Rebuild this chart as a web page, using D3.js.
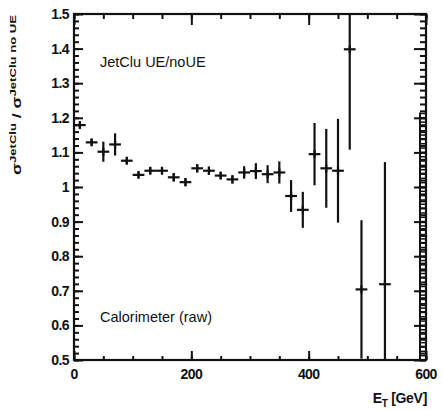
<!DOCTYPE html>
<html>
<head>
<meta charset="utf-8">
<script src="https://cdn.jsdelivr.net/npm/d3@7"></script>
<style>
  html, body { margin: 0; padding: 0; background: #fff; }
  svg { display: block; }
  text { font-family: "Liberation Sans", Arial, sans-serif; fill: #111; }
</style>
</head>
<body>
<svg id="chart" width="443" height="411"></svg>
<script>
// ---- data ----
const binCenters = [10, 30, 50, 70, 90, 110, 130, 150, 170, 190, 210, 230, 250, 270, 290, 310, 330, 350, 370, 390, 410, 430, 450, 470, 490, 530];
const ratioValues = [1.179, 1.129, 1.102, 1.123, 1.076, 1.035, 1.047, 1.047, 1.028, 1.014, 1.054, 1.047, 1.033, 1.022, 1.042, 1.046, 1.037, 1.042, 0.974, 0.934, 1.095, 1.054, 1.047, 1.398, 0.704, 0.719];
const ratioErrors = [0.008, 0.01, 0.029, 0.032, 0.01, 0.008, 0.01, 0.01, 0.012, 0.012, 0.012, 0.012, 0.01, 0.012, 0.018, 0.023, 0.026, 0.032, 0.046, 0.052, 0.09, 0.114, 0.15, 0.29, 0.2, 0.353];
const binHalfWidth = 10;
const xTickValues = [0, 200, 400, 600];
const xTickLabels = ["0", "200", "400", "600"];
const yTickValues = [0.5, 0.6, 0.7, 0.8, 0.9, 1.0, 1.1, 1.2, 1.3, 1.4, 1.5];
const yTickLabels = ["0.5", "0.6", "0.7", "0.8", "0.9", "1", "1.1", "1.2", "1.3", "1.4", "1.5"];

// ---- layout ----
const svg = d3.select("#chart");
const L = 74, R = 426, T = 14, B = 360;
const x = d3.scaleLinear().domain([0, 600]).range([L, R]);
const y = d3.scaleLinear().domain([0.5, 1.5]).range([B, T]);

const xMinor = d3.range(0, 600.1, 50);
const yMinor = d3.range(0.5, 1.5001, 0.02);

// clip
svg.append("defs").append("clipPath").attr("id", "plotclip")
  .append("rect").attr("x", L).attr("y", T).attr("width", R - L).attr("height", B - T);

// axes with inside ticks
function tickG(axis, tr) {
  const g = svg.append("g").attr("transform", tr).call(axis);
  g.select(".domain").remove();
  g.selectAll("line").attr("stroke", "#111").attr("stroke-width", 2);
  g.selectAll("text").remove();
  return g;
}
// bottom
tickG(d3.axisBottom(x).tickValues(xMinor).tickSize(-4), `translate(0,${B})`);
tickG(d3.axisBottom(x).tickValues(xTickValues).tickSize(-9), `translate(0,${B})`);
// top
tickG(d3.axisTop(x).tickValues(xMinor).tickSize(-5), `translate(0,${T})`);
tickG(d3.axisTop(x).tickValues(xTickValues).tickSize(-11), `translate(0,${T})`);
// left
tickG(d3.axisLeft(y).tickValues(yMinor).tickSize(-5), `translate(${L},0)`);
tickG(d3.axisLeft(y).tickValues(yTickValues).tickSize(-9), `translate(${L},0)`);
// right
tickG(d3.axisRight(y).tickValues(yMinor).tickSize(-6), `translate(${R},0)`);
tickG(d3.axisRight(y).tickValues(yTickValues).tickSize(-12), `translate(${R},0)`);

// ladder artifact on right edge
const ladderTop = 1.215;
const ladder = svg.append("g");
ladder.append("line").attr("x1", R - 6).attr("x2", R - 6)
  .attr("y1", y(ladderTop)).attr("y2", B).attr("stroke", "#111").attr("stroke-width", 2);
ladder.selectAll("line.rung").data(d3.range(0.5, ladderTop, 0.0125)).join("line")
  .attr("class", "rung")
  .attr("x1", R - 6).attr("x2", R).attr("y1", d => y(d)).attr("y2", d => y(d))
  .attr("stroke", "#111").attr("stroke-width", 1.5);

// frame
svg.append("rect").attr("x", L).attr("y", T).attr("width", R - L).attr("height", B - T)
  .attr("fill", "none").attr("stroke", "#111").attr("stroke-width", 2.2);

// tick labels
svg.append("g").selectAll("text").data(xTickValues).join("text")
  .attr("x", d => x(d)).attr("y", B + 19)
  .attr("text-anchor", "middle").attr("font-size", 14).attr("font-weight", "bold")
  .attr("letter-spacing", -0.6)
  .text((d, i) => xTickLabels[i]);
svg.append("g").selectAll("text").data(yTickValues).join("text")
  .attr("x", L - 5).attr("y", d => y(d) + 5)
  .attr("text-anchor", "end").attr("font-size", 14).attr("font-weight", "bold")
  .attr("letter-spacing", -0.6)
  .text((d, i) => yTickLabels[i]);

// data points
const pts = binCenters.map((c, i) => ({ c, v: ratioValues[i], e: ratioErrors[i] }));
const dg = svg.append("g").attr("clip-path", "url(#plotclip)");
dg.selectAll("line.ey").data(pts).join("line").attr("class", "ey")
  .attr("x1", d => x(d.c)).attr("x2", d => x(d.c))
  .attr("y1", d => y(d.v - d.e)).attr("y2", d => y(d.v + d.e))
  .attr("stroke", "#111").attr("stroke-width", 2.2);
dg.selectAll("line.ex").data(pts).join("line").attr("class", "ex")
  .attr("x1", d => x(d.c - binHalfWidth)).attr("x2", d => x(d.c + binHalfWidth))
  .attr("y1", d => y(d.v)).attr("y2", d => y(d.v))
  .attr("stroke", "#111").attr("stroke-width", 2.2);
// minimal vertical stubs for points with tiny errors
dg.selectAll("line.stub").data(pts).join("line").attr("class", "stub")
  .attr("x1", d => x(d.c)).attr("x2", d => x(d.c))
  .attr("y1", d => y(d.v) - 4).attr("y2", d => y(d.v) + 4)
  .attr("stroke", "#111").attr("stroke-width", 2.2);

// annotations
svg.append("text").attr("x", 100).attr("y", 67).attr("font-size", 14.5).attr("fill", "#222").text("JetClu UE/noUE");
svg.append("text").attr("x", 100).attr("y", 322).attr("font-size", 14.5).attr("fill", "#222").text("Calorimeter (raw)");

// x axis title
const xt = svg.append("text").attr("x", R + 1).attr("y", 403).attr("text-anchor", "end")
  .attr("font-size", 14).attr("font-weight", "bold").attr("letter-spacing", -0.3);
xt.append("tspan").text("E");
xt.append("tspan").attr("font-size", 10).attr("dy", 4).text("T");
xt.append("tspan").attr("dy", -4).text(" [GeV]");

// y axis title
const yt = svg.append("text")
  .attr("transform", `translate(21,${(T + 176) / 2}) rotate(-90)`)
  .attr("text-anchor", "middle").attr("font-size", 12).attr("font-weight", "bold")
  .attr("textLength", 160).attr("lengthAdjust", "spacingAndGlyphs");
yt.append("tspan").text("σ");
yt.append("tspan").attr("font-size", 9).attr("dy", -5).text("JetClu");
yt.append("tspan").attr("dy", 5).text(" / σ");
yt.append("tspan").attr("font-size", 9).attr("dy", -5).text("JetClu no UE");
</script>
</body>
</html>
